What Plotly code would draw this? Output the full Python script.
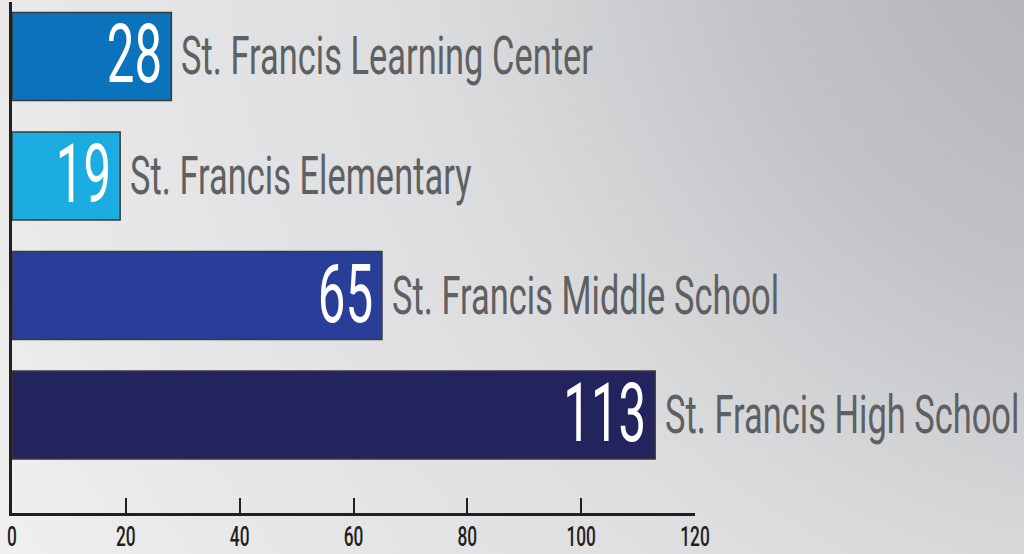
import base64
import plotly.graph_objects as go

# ---- data ----
categories = ["St. Francis High School", "St. Francis Middle School",
              "St. Francis Elementary", "St. Francis Learning Center"]
values = [113, 65, 19, 28]
bar_colors = ["#23235e", "#283e98", "#1bade2", "#0a73bb"]
tick_vals = [0, 20, 40, 60, 80, 100, 120]

W, H = 1024, 554
ML, MR, MT, MB = 12, 329, 2, 41
PW, PH = W - ML - MR, H - MT - MB

FONT = "Roboto, Noto Sans, sans-serif"
SQ_VALUE, SQ_LABEL, SQ_TICK = 0.60, 0.65, 0.64

# background gradient as svg image
svg = (
    f'<svg xmlns="http://www.w3.org/2000/svg" width="{W}" height="{H}" preserveAspectRatio="none">'
    '<defs><radialGradient id="g" gradientUnits="userSpaceOnUse" cx="1150" cy="-100" r="1350">'
    '<stop offset="0" stop-color="#a9aaae"/>'
    '<stop offset="0.12" stop-color="#b5b6ba"/>'
    '<stop offset="0.3" stop-color="#c2c3c7"/>'
    '<stop offset="0.45" stop-color="#d3d4d6"/>'
    '<stop offset="0.55" stop-color="#dcdddf"/>'
    '<stop offset="0.85" stop-color="#e9e9ea"/>'
    '<stop offset="1" stop-color="#f1f1f2"/>'
    '</radialGradient></defs>'
    f'<rect x="-10" y="-10" width="{W + 20}" height="{H + 20}" fill="url(#g)"/></svg>'
)
src = "data:image/svg+xml;base64," + base64.b64encode(svg.encode()).decode()

fig = go.Figure()
fig.add_trace(go.Bar(
    x=values, y=categories, orientation="h",
    marker=dict(color=bar_colors, line=dict(color="#3a3a3c", width=1.5)),
    hoverinfo="skip",
))

annotations = []
for cat, v in zip(categories, values):
    annotations.append(dict(
        x=v, y=cat, xref="x", yref="y", text=str(v), showarrow=False,
        xanchor="right", yanchor="middle", xshift=-7, yshift=2,
        font=dict(family=FONT, size=82, color="white"),
    ))
    annotations.append(dict(
        x=v, y=cat, xref="x", yref="y", text=cat, showarrow=False,
        xanchor="left", yanchor="middle", xshift=8, yshift=0,
        font=dict(family=FONT, size=53, color="#5e6062"),
    ))

fig.update_layout(
    width=W, height=H,
    margin=dict(l=ML, r=MR, t=MT, b=MB, pad=0, autoexpand=False),
    paper_bgcolor="#eeeeef", plot_bgcolor="rgba(0,0,0,0)",
    showlegend=False,
    bargap=0.264,
    annotations=annotations,
    images=[dict(
        source=src, xref="paper", yref="paper",
        x=-ML / PW, y=1 + MT / PH, sizex=W / PW, sizey=H / PH,
        xanchor="left", yanchor="top", sizing="stretch", layer="below",
    )],
    xaxis=dict(
        range=[0, 120], tickvals=tick_vals, ticks="inside", ticklen=15,
        tickwidth=2, tickcolor="#231f20", showline=True, linecolor="#231f20",
        linewidth=2.5, showgrid=False, zeroline=False, automargin=False,
        tickfont=dict(family=FONT, size=27, color="#231f20", weight=500),
        fixedrange=True,
    ),
    yaxis=dict(
        categoryorder="array", categoryarray=categories,
        range=[-0.82, 3.456], showticklabels=False, ticks="",
        showline=True, linecolor="#231f20", linewidth=2.5, automargin=False,
        showgrid=False, zeroline=False, fixedrange=True,
    ),
)

post = """
document.body.style.margin='0';document.body.style.overflow='hidden';
var gd=document.getElementById('{plot_id}');
function squeeze(t, mode, S, dy){
  if(!t || t.getAttribute('data-cond')==='1') return;
  var bb=t.getBBox();
  var ox = mode==='right' ? bb.x+bb.width : (mode==='left' ? bb.x : bb.x+bb.width/2);
  var oy = bb.y+bb.height/2;
  var prev=t.getAttribute('transform')||'';
  t.setAttribute('transform', prev+' translate(0,'+dy+') translate('+ox+','+oy+') scale('+S+',1) translate('+(-ox)+','+(-oy)+')');
  t.setAttribute('data-cond','1');
}
function cond(){
  gd.querySelectorAll('g.annotation').forEach(function(g){
    var i=+g.getAttribute('data-index');
    if(i%%2===0){ squeeze(g.querySelector('text'),'right',%s,0); }
    else { squeeze(g.querySelector('text'),'left',%s,0); }
  });
  gd.querySelectorAll('.xtick text').forEach(function(t){ squeeze(t,'center',%s,-2); });
}
cond();
if(gd.on){ gd.on('plotly_afterplot', cond); }
setTimeout(cond, 50);
""" % (SQ_VALUE, SQ_LABEL, SQ_TICK)

fig.write_html("out.html", config={"displayModeBar": False}, post_script=post)
